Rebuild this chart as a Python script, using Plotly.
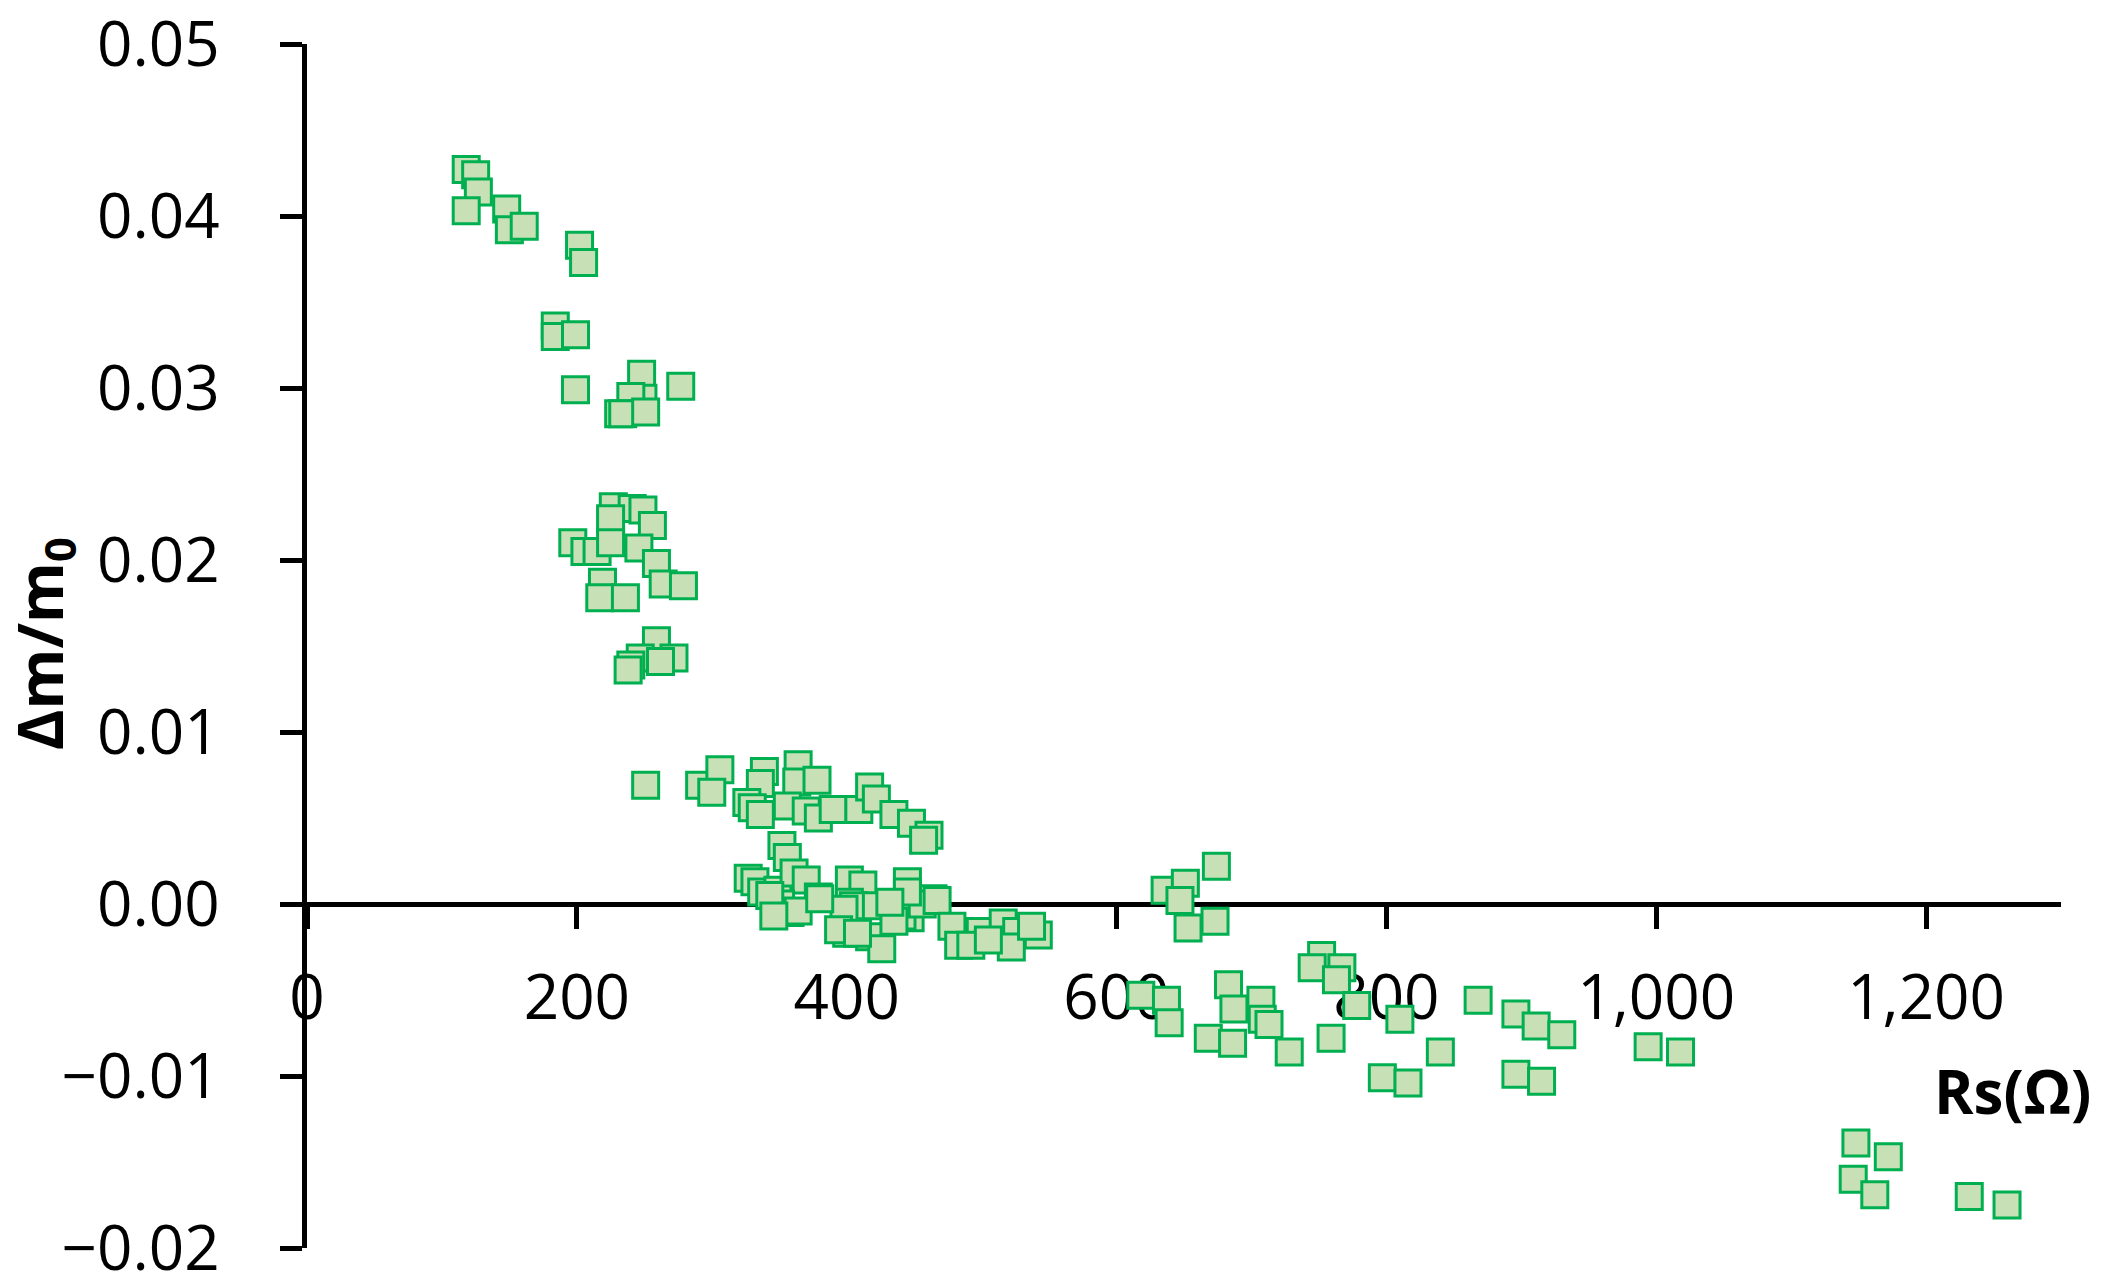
import plotly.graph_objects as go

# Rs (ohm) and relative mass change
rs_ohm = [
    118, 125, 127, 118, 148, 150, 161, 202, 205, 184, 184, 199, 199, 248, 249, 240, 231, 234, 251, 277,
    227, 241, 249, 225, 256, 197, 206, 215, 225, 246, 259, 264, 279, 219, 217, 236,
    259, 247, 240, 238, 272, 262,
    251, 291, 306, 300, 339, 336, 364, 363, 378, 326, 330, 336, 356, 370, 379, 390, 409, 417, 422, 435,
    448, 461, 457,
    352, 356, 327, 332, 337, 349, 361, 370, 379, 351, 358, 364, 343, 346, 402, 412, 402, 405, 422, 445,
    464, 447, 441, 456, 400, 417, 426, 398, 394, 408, 435, 445, 432, 467, 478, 483, 499, 492, 516, 526,
    542, 522, 537, 505, 380,
    636, 651, 674, 647, 653, 673, 618, 637, 639, 683, 687, 707, 708, 668, 686, 713, 728, 752, 745, 767,
    763, 778, 810, 759, 840, 797, 816, 868, 896, 911, 930, 896, 915, 994, 1018, 1148, 1172, 1146, 1162,
    1232, 1260,
]
dm_m0 = [
    0.0427, 0.0424, 0.0414, 0.0403, 0.0404, 0.0392, 0.0394, 0.0383, 0.0373, 0.0336, 0.0330, 0.0331,
    0.0299, 0.0308, 0.0294, 0.0295, 0.0285, 0.0285, 0.0286, 0.0301,
    0.0231, 0.0230, 0.0229, 0.0224, 0.0220, 0.0210, 0.0205, 0.0205, 0.0210, 0.0207, 0.0198, 0.0186,
    0.0185, 0.0187, 0.0178, 0.0178,
    0.0153, 0.0143, 0.0139, 0.0136, 0.0143, 0.0141,
    0.0069, 0.0069, 0.0078, 0.0065, 0.0077, 0.0070, 0.0081, 0.0071, 0.0072, 0.0059, 0.0056, 0.0052,
    0.0057, 0.0054, 0.0050, 0.0055, 0.0055, 0.0068, 0.0061, 0.0052, 0.0047, 0.0040, 0.0037,
    0.0034, 0.0027, 0.0015, 0.0013, 0.0007, 0.0008, 0.0018, 0.0014, 0.0004, 0.0000, -0.0005, -0.0004,
    0.0005, -0.0007, 0.0014, 0.0011, 0.0001, -0.0001, -0.0001, 0.0013, 0.0003, -0.0008, -0.0007, 0.0000,
    -0.0017, -0.0019, -0.0026, -0.0003, -0.0015, -0.0017, -0.0010, 0.0007, 0.0001, 0.0002, -0.0013,
    -0.0024, -0.0016, -0.0024, -0.0011, -0.0016, -0.0018, -0.0025, -0.0013, -0.0021, 0.0003,
    0.0008, 0.0012, 0.0022, 0.0002, -0.0014, -0.0010, -0.0053, -0.0056, -0.0069, -0.0047, -0.0061,
    -0.0056, -0.0067, -0.0078, -0.0081, -0.0070, -0.0086, -0.0030, -0.0037, -0.0037, -0.0044, -0.0059,
    -0.0067, -0.0078, -0.0086, -0.0101, -0.0104, -0.0056, -0.0064, -0.0071, -0.0076, -0.0099, -0.0103,
    -0.0083, -0.0086, -0.0139, -0.0147, -0.0160, -0.0169, -0.0170, -0.0175,
]

x_range = [0, 1300]
y_range = [-0.02, 0.05]
x_ticks = [0, 200, 400, 600, 800, 1000, 1200]
y_ticks = [-0.02, -0.01, 0.00, 0.01, 0.02, 0.03, 0.04, 0.05]

FONT = "Open Sans"
EPS = 1e-7  # keeps the end ticks (0.05 / -0.02) from being dropped by rounding

fig = go.Figure()
fig.add_trace(go.Scatter(
    x=rs_ohm,
    y=dm_m0,
    mode="markers",
    marker=dict(
        symbol="square",
        size=26,
        color="#C8E0B6",
        line=dict(color="#00B050", width=3),
    ),
    showlegend=False,
))

# horizontal axis sits on y = 0, like the Excel original
y_lo, y_hi = y_range[0] - EPS, y_range[1] + EPS
zero_pos = (0 - y_lo) / (y_hi - y_lo)

fig.update_xaxes(
    range=x_range,
    tickvals=x_ticks,
    tickformat=",d",
    anchor="free",
    position=zero_pos,
    automargin=False,
    showline=True, linecolor="black", linewidth=5,
    ticks="outside", ticklen=22, tickwidth=5, tickcolor="black",
    ticklabelstandoff=16,
    ticklabeloverflow="allow",
    showgrid=False, zeroline=False,
    layer="below traces",
    tickfont=dict(family=FONT, size=62, color="black"),
)
fig.update_yaxes(
    range=[y_lo, y_hi],
    tickvals=y_ticks,
    tickformat=".2f",
    automargin=False,
    showline=True, linecolor="black", linewidth=5,
    ticks="outside", ticklen=22, tickwidth=5, tickcolor="black",
    ticklabelstandoff=48,
    ticklabeloverflow="allow",
    showgrid=False, zeroline=False,
    layer="below traces",
    tickfont=dict(family=FONT, size=62, color="black"),
)

fig.add_annotation(
    text="<b>Rs(Ω)</b>",
    xref="paper", x=1, xanchor="right", xshift=32,
    yref="y", y=-0.0109, yanchor="middle",
    showarrow=False,
    font=dict(family=FONT, size=60, color="black"),
)
fig.add_annotation(
    text="<b>Δm/m<sub>0</sub></b>",
    xref="paper", x=0, xanchor="center", xshift=-264,
    yref="y", y=0.0151, yanchor="middle",
    textangle=-90,
    showarrow=False,
    font=dict(family=FONT, size=62, color="black"),
)

# page body adds an 8px margin, so the figure is 8px smaller on each side
fig.update_layout(
    width=2093,
    height=1280,
    margin=dict(l=299, r=40, t=36, b=40, autoexpand=False),
    plot_bgcolor="white",
    paper_bgcolor="white",
)

fig.write_html("out.html")
